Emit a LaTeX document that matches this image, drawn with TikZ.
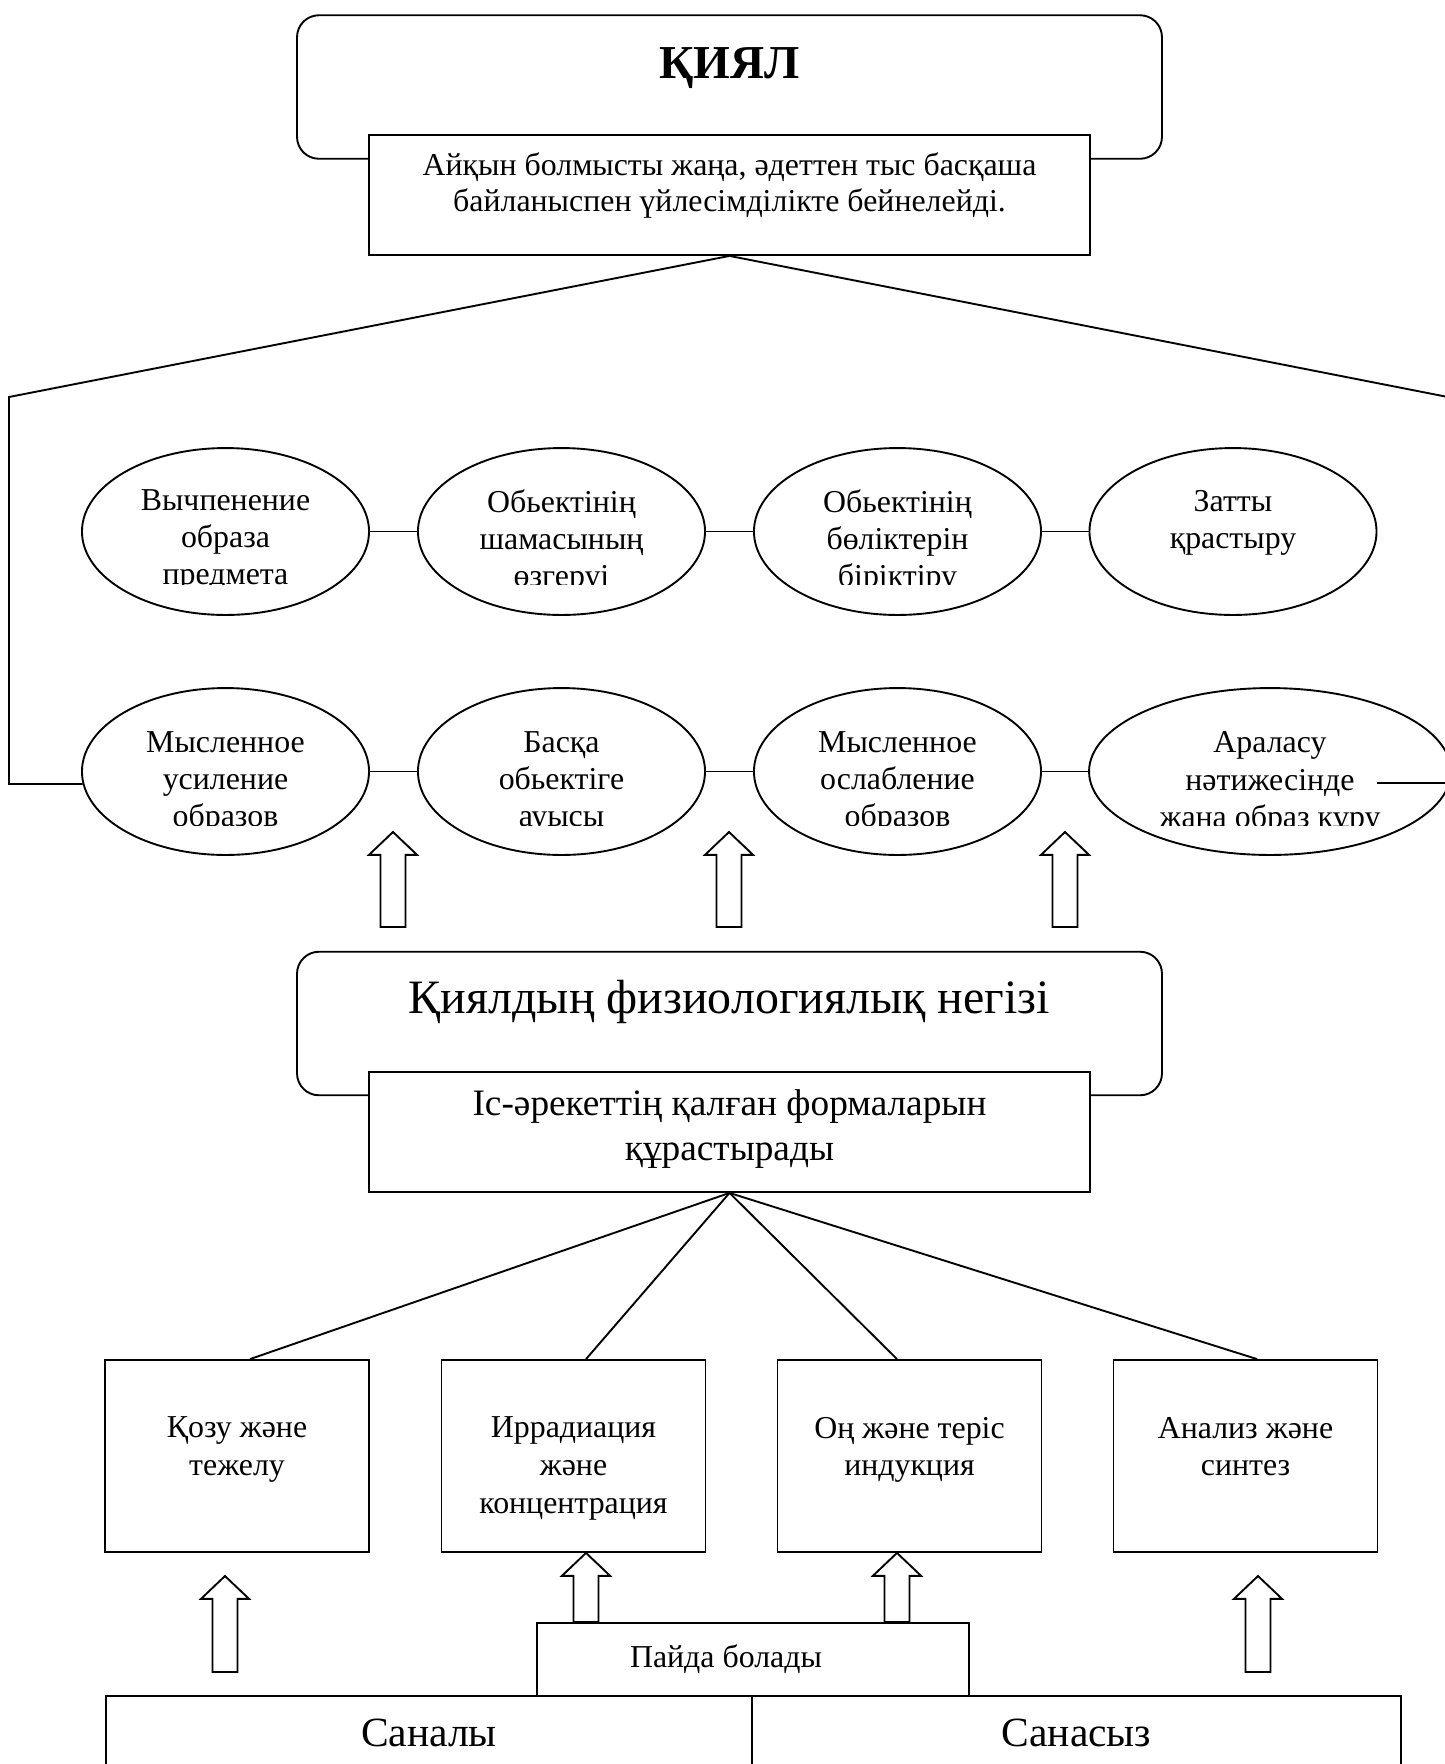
\documentclass[tikz,border=0pt]{standalone}
\usepackage{fontspec}
\setmainfont{Liberation Serif}
\usetikzlibrary{calc,shapes.geometric}

\tikzset{
  oval/.style={draw,ellipse,minimum width=121.6pt,minimum height=70.7pt,inner sep=0pt},
  ovaltext/.style={anchor=north,align=center,inner sep=0pt,font=\fontsize{13.5}{15.7}\selectfont},
  roundbox/.style={draw,rounded corners=9.3pt,minimum width=366.4pt,minimum height=60.8pt},
  whitebox/.style={draw,fill=white,minimum width=305.4pt,minimum height=50.8pt},
  factbox/.style={draw,minimum width=111.8pt,minimum height=81.3pt},
  plaintext/.style={align=center,inner sep=0pt,font=\fontsize{13.5}{16}\selectfont}
}

% hollow up arrow: #1 = foot, #2 = tip
\newcommand{\blockarrow}[2]{%
  \draw[fill=white] let \p1=(#1), \p2=(#2) in
    (\x2-5.3pt,\y1) -- (\x2-5.3pt,\y2-9.7pt) -- (\x2-10.2pt,\y2-9.7pt) -- (\x2,\y2)
    -- (\x2+10.2pt,\y2-9.7pt) -- (\x2+5.3pt,\y2-9.7pt) -- (\x2+5.3pt,\y1) -- cycle;}

\begin{document}
\begin{tikzpicture}[x=0.4236pt,y=-0.4236pt,line width=0.8pt]
  \useasboundingbox (0,0) rectangle (1445,1764);
  \clip (0,0) rectangle (1445,1764);

  % top block
  \node[roundbox] (kiyal) at (729.5,87) {};
  \node[font=\fontsize{20}{24}\selectfont\bfseries,anchor=base] (kiyaltitle) at (729.5,78) {ҚИЯЛ};
  \node[whitebox] (kiyaldesc) at (729.5,195) {};
  \node[plaintext,anchor=north,font=\fontsize{13.5}{15.3}\selectfont] (kiyaltext) at ([yshift=-7.6pt]kiyaldesc.north)
    {Айқын болмысты жаңа, әдеттен тыс басқаша\\байланыспен үйлесімділікте бейнелейді.};

  % two rows of ellipses
  \node[oval] (e11) at (225.5,531.5) {};
  \node[oval] (e12) at (561.5,531.5) {};
  \node[oval] (e13) at (897.5,531.5) {};
  \node[oval] (e14) at (1233,531.5) {};
  \node[oval] (e21) at (225.5,771.5) {};
  \node[oval] (e22) at (561.5,771.5) {};
  \node[oval] (e23) at (897.5,771.5) {};
  \node[oval,minimum width=153.3pt] (e24) at (1270,771.5) {};
  \foreach \r in {1,2}
    \foreach \a/\b in {1/2,2/3,3/4}
      \draw (e\r\a) -- (e\r\b);

  \begin{scope}
    \clip (0,440) rectangle (1445,584);
    \node[ovaltext] (e11t) at (225.5,489) {Вычпенение\\образа\\предмета};
    \node[ovaltext] (e12t) at (561.5,489) {Обьектінің\\шамасының\\өзгеруі};
    \node[ovaltext] (e13t) at (897.5,489) {Обьектінің\\бөліктерін\\біріктіру};
    \node[ovaltext] (e14t) at (1233,489) {Затты\\қрастыру};
  \end{scope}
  \begin{scope}
    \clip (0,690) rectangle (1445,825);
    \node[ovaltext] (e21t) at (225.5,731) {Мысленное\\усиление\\образов};
    \node[ovaltext] (e22t) at (561.5,731) {Басқа\\обьектіге\\ауысы};
    \node[ovaltext] (e23t) at (897.5,731) {Мысленное\\ослабление\\образов};
    \node[ovaltext] (e24t) at (1270,731) {Араласу\\нәтижесінде\\жаңа образ құру};
  \end{scope}

  % frame lines round the ellipses
  \coordinate (lcorner) at (9,397);
  \coordinate (rcorner) at (1453,398);
  \coordinate (rend) at (1377,783);
  \draw (e21.185) -| (lcorner) -- (kiyaldesc.south);
  \draw (kiyaldesc.south) -- (rcorner) |- (rend);

  \foreach \ax in {393,729,1065}
    \blockarrow{\ax,927}{\ax,832};

  % physiological basis
  \node[roundbox] (fiz) at (729.5,1023.5) {};
  \node[font=\fontsize{20.3}{24}\selectfont,anchor=base] (fiztitle) at (729.5,1013) {Қиялдың физиологиялық негізі};
  \node[whitebox] (fizdesc) at (729.5,1132) {};
  \node[plaintext,anchor=north,font=\fontsize{15.8}{19}\selectfont] (fiztext) at ([yshift=-7.6pt]fizdesc.north)
    {Іс-әрекеттің қалған формаларын\\құрастырады};

  \node[factbox] (qozu) at (237,1456) {};
  \node[factbox] (irr) at (573.5,1456) {};
  \node[factbox] (ind) at (909.5,1456) {};
  \node[factbox] (anal) at (1245.5,1456) {};
  \node[plaintext,anchor=north] (qozut) at (237,1416) {Қозу және\\тежелу};
  \node[plaintext,anchor=north] (irrt) at (573.5,1416) {Иррадиация\\және\\концентрация};
  \node[plaintext,anchor=north] (indt) at (909.5,1416) {Оң және теріс\\индукция};
  \node[plaintext,anchor=north] (analt) at (1245.5,1416) {Анализ және\\синтез};

  \draw (fizdesc.south) -- ([xshift=5.5pt]qozu.north);
  \draw (fizdesc.south) -- ([xshift=5.3pt]irr.north);
  \draw (fizdesc.south) -- ([xshift=-5.3pt]ind.north);
  \draw (fizdesc.south) -- ([xshift=4.9pt]anal.north);

  % bottom part
  \node[draw,minimum width=183pt,minimum height=30.9pt] (paida) at (753,1659.5) {};
  \node[plaintext] (paidat) at (726,1659) {Пайда болады};
  \node[draw,font=\fontsize{17.6}{22}\selectfont,minimum width=273.6pt,minimum height=31.3pt] (sanaly) at (429,1733) {Саналы};
  \node[draw,font=\fontsize{17.6}{22}\selectfont,minimum width=274.9pt,minimum height=31.3pt] (sanasyz) at (1076.5,1733) {Санасыз};

  \coordinate (a2) at ([xshift=5.3pt]irr.south);
  \coordinate (a3) at ([xshift=-5.3pt]ind.south);
  \blockarrow{a2 |- paida.north}{a2};
  \blockarrow{a3 |- paida.north}{a3};
  \blockarrow{225,1672}{225,1576};
  \blockarrow{1258,1672}{1258,1576};
\end{tikzpicture}
\end{document}
